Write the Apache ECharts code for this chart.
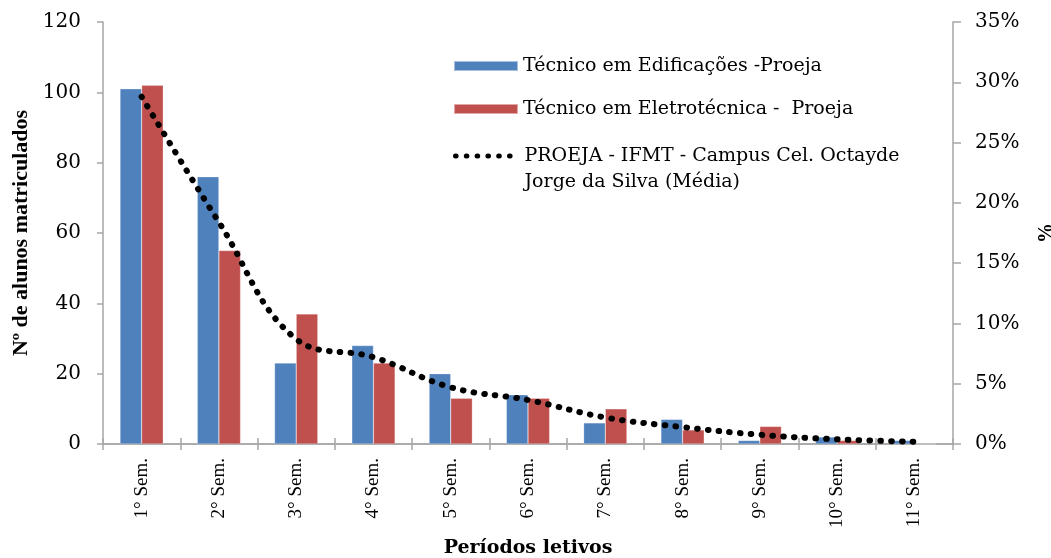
<!DOCTYPE html>
<html>
<head>
<meta charset="utf-8">
<script src="https://cdn.jsdelivr.net/npm/echarts@6/dist/echarts.min.js"></script>
<style>html,body{margin:0;padding:0;background:#fff}#c{width:1051px;height:558px}</style>
</head>
<body>
<div id="c"></div>
<script>
var categories = ['1° Sem.', '2° Sem.', '3° Sem.', '4° Sem.', '5° Sem.', '6° Sem.', '7° Sem.', '8° Sem.', '9° Sem.', '10° Sem.', '11° Sem.'];
var edificacoes = [101, 76, 23, 28, 20, 14, 6, 7, 1, 2, 1];
var eletrotecnica = [102, 55, 37, 23, 13, 13, 10, 4, 5, 1, 0];
var mediaPct = [0.288, 0.184, 0.087, 0.072, 0.047, 0.0365, 0.022, 0.014, 0.0077, 0.0039, 0.0019];
var leftTicks = [0, 20, 40, 60, 80, 100, 120];
var rightTicks = ['0%', '5%', '10%', '15%', '20%', '25%', '30%', '35%'];

var nameA = 'Técnico em Edificações -Proeja';
var nameB = 'Técnico em Eletrotécnica -  Proeja';
var nameC = 'PROEJA - IFMT - Campus Cel. Octayde Jorge da Silva (Média)';

var SERIF = '"Liberation Serif", "Times New Roman", serif';
var WIDE = '"DejaVu Serif", "Liberation Serif", serif';
var AX = '#a6a6a6';

var chart = echarts.init(document.getElementById('c'), null, {renderer: 'canvas'});
var legendText = {fontFamily: WIDE, fontSize: 19, color: '#000', lineHeight: 22};
chart.setOption({
  animation: false,
  backgroundColor: '#fff',
  grid: {left: 103, right: 98, top: 22, bottom: 114, containLabel: false, outerBoundsMode: 'none'},
  legend: [
    {left: 453, top: 55, padding: 0, itemWidth: 64, itemHeight: 10, itemGap: 0, data: [{name: nameA, icon: 'rect'}], textStyle: legendText, selectedMode: false},
    {left: 453, top: 98, padding: 0, itemWidth: 64, itemHeight: 10, itemGap: 0, data: [{name: nameB, icon: 'rect'}], textStyle: legendText, selectedMode: false},
    {left: 453, top: 117, padding: 0, itemWidth: 64, itemHeight: 10, itemGap: 0, data: [{name: nameC}], selectedMode: false,
     itemStyle: {color: 'rgba(0,0,0,0)', borderColor: 'rgba(0,0,0,0)', borderWidth: 0, opacity: 0},
     lineStyle: {color: '#000', width: 5, type: [0.6, 10.2], cap: 'round'},
     formatter: function (n) { return '\n' + n.replace(' Jorge', '\nJorge'); },
     textStyle: {fontFamily: WIDE, fontSize: 19, color: '#000', lineHeight: 26}}
  ],
  xAxis: [
    {type: 'category', data: categories, position: 'bottom',
     axisLine: {lineStyle: {color: AX, width: 1.5}},
     axisTick: {show: true, length: 6, lineStyle: {color: AX, width: 1.5}},
     axisLabel: {rotate: 90, margin: 14, fontFamily: SERIF, fontSize: 19, color: '#000', interval: 0},
     name: 'Períodos letivos', nameLocation: 'middle', nameGap: 95,
     nameTextStyle: {fontFamily: WIDE, fontSize: 19, fontWeight: 'bold', color: '#000'}},
    {type: 'category', data: categories, position: 'top',
     axisLine: {lineStyle: {color: AX, width: 1.5}},
     axisTick: {show: true, length: 6, lineStyle: {color: AX, width: 1.5}},
     axisLabel: {show: false}}
  ],
  yAxis: [
    {type: 'value', min: 0, max: 120, interval: 20, position: 'left',
     axisLine: {show: true, lineStyle: {color: AX, width: 1.5}},
     axisTick: {show: true, length: 6, lineStyle: {color: AX, width: 1.5}},
     splitLine: {show: false},
     axisLabel: {margin: 22, fontFamily: WIDE, fontSize: 20, color: '#000',
       formatter: function (v) { return leftTicks.indexOf(v) >= 0 ? String(v) : ''; }},
     name: 'Nº de alunos matriculados', nameLocation: 'middle', nameGap: 68,
     nameTextStyle: {fontFamily: SERIF, fontSize: 22, fontWeight: 'bold', color: '#000'}},
    {type: 'value', min: 0, max: 0.35, interval: 0.05, position: 'right',
     axisLine: {show: true, lineStyle: {color: AX, width: 1.5}},
     axisTick: {show: true, length: 8, lineStyle: {color: AX, width: 1.5}},
     splitLine: {show: false},
     axisLabel: {margin: 22, fontFamily: WIDE, fontSize: 20, color: '#000',
       formatter: function (v) { return rightTicks[Math.round(v / 0.05)]; }},
     name: '%', nameLocation: 'middle', nameGap: 84,
     nameTextStyle: {fontFamily: SERIF, fontSize: 20, fontWeight: 'bold', color: '#000'}}
  ],
  series: [
    {name: nameA, type: 'bar', data: edificacoes, barGap: '0%', barCategoryGap: '44%',
     itemStyle: {color: '#4F81BD', borderColor: 'rgba(255,255,255,0.5)', borderWidth: 0.5}},
    {name: nameB, type: 'bar', data: eletrotecnica,
     itemStyle: {color: '#C0504D', borderColor: 'rgba(255,255,255,0.5)', borderWidth: 0.5}},
    {name: nameC, type: 'line', yAxisIndex: 1, data: mediaPct, smooth: 0.4,
     symbol: 'none', showSymbol: false, z: 5,
     lineStyle: {color: '#000', width: 6, type: [0.6, 10.2], cap: 'round'}}
  ]
});
</script>
</body>
</html>
